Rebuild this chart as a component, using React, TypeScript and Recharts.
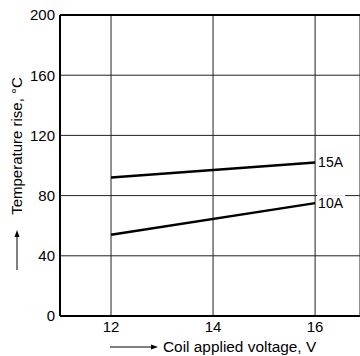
import { LineChart, Line, XAxis, YAxis, CartesianGrid, ReferenceLine } from 'recharts';

const voltages = [12, 16];
const rise10A = [54, 75];
const rise15A = [92, 102];
const xTicks = [12, 14, 16];
const yTicks = [0, 40, 80, 120, 160, 200];

const chartData = voltages.map((v, i) => ({ v, a10: rise10A[i], a15: rise15A[i] }));

const font = '"Liberation Sans", Arial, sans-serif';

function endLabel(text: string) {
  return (props: any) => {
    const { x, y, index } = props;
    if (index !== voltages.length - 1) return null;
    return (
      <g>
        <rect x={x + 2} y={y - 8} width={28} height={16} fill="#fff" />
        <text x={x + 3} y={y} dy={5} fontSize={14} fontFamily={font} fill="#000">
          {text}
        </text>
      </g>
    );
  };
}

function YTitle() {
  return (
    <g fontFamily={font}>
      <text
        x={0}
        y={0}
        transform="translate(22, 146) rotate(-90)"
        textAnchor="middle"
        fontSize={15}
        fill="#000"
      >
        Temperature rise, °C
      </text>
      <line x1={17} y1={270} x2={17} y2={235} stroke="#000" strokeWidth={1} />
      <path d="M17,230 L14.5,237 L19.5,237 Z" fill="#000" />
    </g>
  );
}

function XTitle() {
  return (
    <g fontFamily={font}>
      <line x1={110} y1={347} x2={152} y2={347} stroke="#000" strokeWidth={1} />
      <path d="M158,347 L151,344.5 L151,349.5 Z" fill="#000" />
      <text x={163} y={352} fontSize={15.4} fill="#000">
        Coil applied voltage, V
      </text>
    </g>
  );
}

export default function App() {
  return (
    <div style={{ position: 'absolute', left: 0, top: 0, width: 360, height: 356, overflow: 'hidden', background: '#fff' }}>
      <LineChart width={360} height={356} data={chartData} margin={{ top: 15, right: 0, bottom: 20, left: 0 }}>
        <CartesianGrid stroke="#222" strokeWidth={1} />
        <XAxis
          dataKey="v"
          type="number"
          domain={[11, 16.88]}
          ticks={xTicks}
          allowDataOverflow
          height={20}
          tickSize={0}
          tickMargin={5}
          axisLine={{ stroke: '#000', strokeWidth: 2 }}
          tick={{ fill: '#000', fontSize: 15, fontFamily: font }}
          label={<XTitle />}
        />
        <YAxis
          type="number"
          domain={[0, 200]}
          ticks={yTicks}
          width={60}
          tickSize={0}
          tickMargin={5}
          axisLine={{ stroke: '#000', strokeWidth: 2 }}
          tick={{ fill: '#000', fontSize: 15, fontFamily: font }}
          label={<YTitle />}
        />
        <ReferenceLine y={200} stroke="#000" strokeWidth={2} />
        <Line
          dataKey="a15"
          stroke="#000"
          strokeWidth={2.5}
          dot={false}
          isAnimationActive={false}
          label={endLabel('15A')}
        />
        <Line
          dataKey="a10"
          stroke="#000"
          strokeWidth={2.5}
          dot={false}
          isAnimationActive={false}
          label={endLabel('10A')}
        />
      </LineChart>
    </div>
  );
}
